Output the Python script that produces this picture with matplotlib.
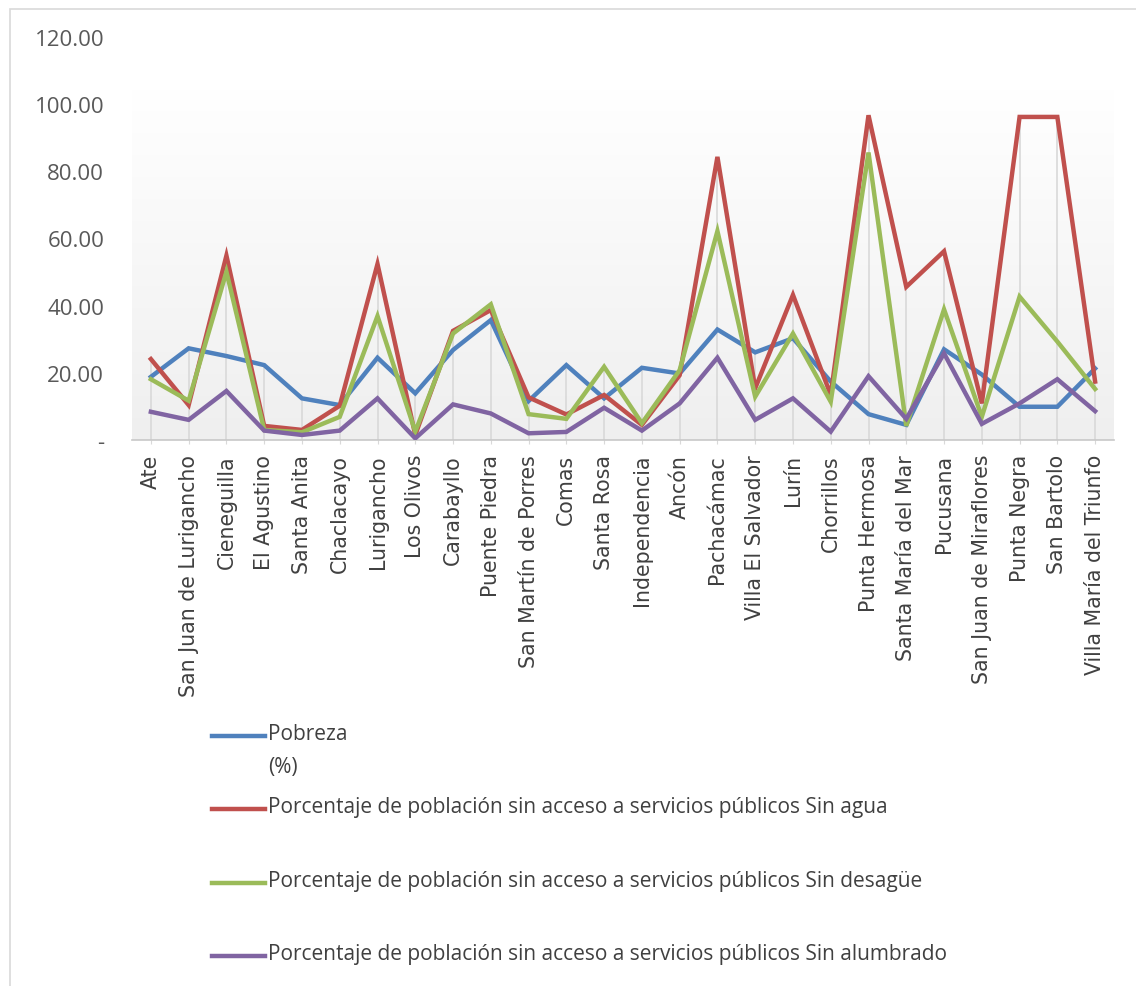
import numpy as np
import matplotlib
matplotlib.use("Agg")
import matplotlib.pyplot as plt
from matplotlib.lines import Line2D
from matplotlib.patches import Rectangle
from matplotlib.colors import LinearSegmentedColormap

districts = ["Ate", "San Juan de Lurigancho", "Cieneguilla", "El Agustino", "Santa Anita",
             "Chaclacayo", "Lurigancho", "Los Olivos", "Carabayllo", "Puente Piedra",
             "San Martín de Porres", "Comas", "Santa Rosa", "Independencia", "Ancón",
             "Pachacámac", "Villa El Salvador", "Lurín", "Chorrillos", "Punta Hermosa",
             "Santa María del Mar", "Pucusana", "San Juan de Miraflores", "Punta Negra",
             "San Bartolo", "Villa María del Triunfo"]

pobreza = [18.8, 27.3, 25.0, 22.3, 12.4, 10.4, 24.5, 13.9, 26.8, 35.7, 11.6, 22.3, 12.4,
           21.5, 19.8, 32.9, 26.1, 30.3, 17.4, 7.7, 4.5, 27.0, 19.5, 9.9, 9.9, 21.3]
sin_agua = [24.1, 10.4, 54.9, 4.2, 3.0, 10.2, 52.4, 1.5, 32.5, 38.7, 12.7, 7.6, 13.4,
            4.5, 19.3, 84.3, 15.4, 43.2, 13.4, 96.7, 45.6, 56.2, 10.9, 96.2, 96.2, 17.4]
sin_desague = [18.1, 11.7, 50.1, 3.0, 2.3, 6.9, 36.9, 2.5, 31.7, 40.4, 7.7, 6.3, 21.8,
               5.0, 20.8, 62.2, 12.9, 31.7, 11.4, 85.6, 4.2, 38.9, 6.9, 42.7, 29.3, 15.2]
sin_alumbrado = [8.4, 6.0, 14.6, 2.8, 1.5, 2.8, 12.4, 0.5, 10.6, 7.9, 2.0, 2.4, 9.6,
                 2.8, 10.9, 24.5, 6.0, 12.4, 2.5, 19.0, 6.3, 25.8, 4.8, 10.9, 18.1, 8.6]

series_labels = ["Pobreza\n(%)",
                 "Porcentaje de población sin acceso a servicios públicos Sin agua",
                 "Porcentaje de población sin acceso a servicios públicos Sin desagüe",
                 "Porcentaje de población sin acceso a servicios públicos Sin alumbrado"]
colors = ["#4F81BD", "#C0504D", "#9BBB59", "#8064A2"]
yticks = [0, 20, 40, 60, 80, 100, 120]

W, H = 1136, 987
fig = plt.figure(figsize=(W / 100, H / 100), dpi=100)
fig.patch.set_facecolor("white")

# chart border
fig.patches.append(Rectangle((10 / W, -0.05), 1.2, 1 - 10 / H + 0.05, transform=fig.transFigure,
                             fill=False, edgecolor="#d9d9d9", linewidth=1.2))

ax = fig.add_axes([132 / W, 1 - 441 / H, (1114 - 132) / W, (441 - 38) / H])
x = np.arange(len(districts))
ax.set_xlim(-0.5, len(districts) - 0.5)
ax.set_ylim(0, 120)

# gradient background of the plot area
grad = np.linspace(0, 1, 256).reshape(-1, 1)
cmap = LinearSegmentedColormap.from_list("g", ["#efefef", "#ffffff"])
ax.imshow(grad, extent=(-0.5, len(districts) - 0.5, 0, 104.5), origin="lower",
          aspect="auto", cmap=cmap, zorder=0)
ax.set_facecolor("white")

data = [pobreza, sin_agua, sin_desague, sin_alumbrado]
# drop lines from the highest point down to the category axis
tops = np.max(np.array(data), axis=0)
ax.vlines(x, 0, tops, color="#d9d9d9", lw=1.2, zorder=1)

for vals, c in zip(data, colors):
    ax.plot(x, vals, color=c, lw=3.2, zorder=3, solid_joinstyle="miter")

for s in ["top", "right", "left"]:
    ax.spines[s].set_visible(False)
ax.spines["bottom"].set_color("#c8c8c8")
ax.spines["bottom"].set_linewidth(1.2)

ax.set_yticks(yticks)
ax.set_yticklabels(["-" if v == 0 else f"{v:.2f}" for v in yticks],
                   fontsize=16, color="#595959", family=["Open Sans", "DejaVu Sans"])
ax.tick_params(axis="y", length=0, pad=20)
ax.set_xticks(x)
ax.set_xticklabels(districts, rotation=90, fontsize=14.8, color="#404040",
                   family=["DejaVu Sans"])
ax.tick_params(axis="x", length=3, color="#d9d9d9", pad=7)

# legend (manual)
leg_y = [737, 810, 884, 957]
for lab, c, yy in zip(series_labels, colors, leg_y):
    fig.add_artist(Line2D([212 / W, 265 / W], [1 - yy / H, 1 - yy / H], color=c, lw=3.2,
                          transform=fig.transFigure))
    fig.text(268 / W, 1 - (yy - 13) / H, lab, fontsize=15, color="#404040", va="top",
             ha="left", linespacing=1.75,
             family=["Open Sans", "DejaVu Sans"])

fig.savefig("out.png", dpi=100)
